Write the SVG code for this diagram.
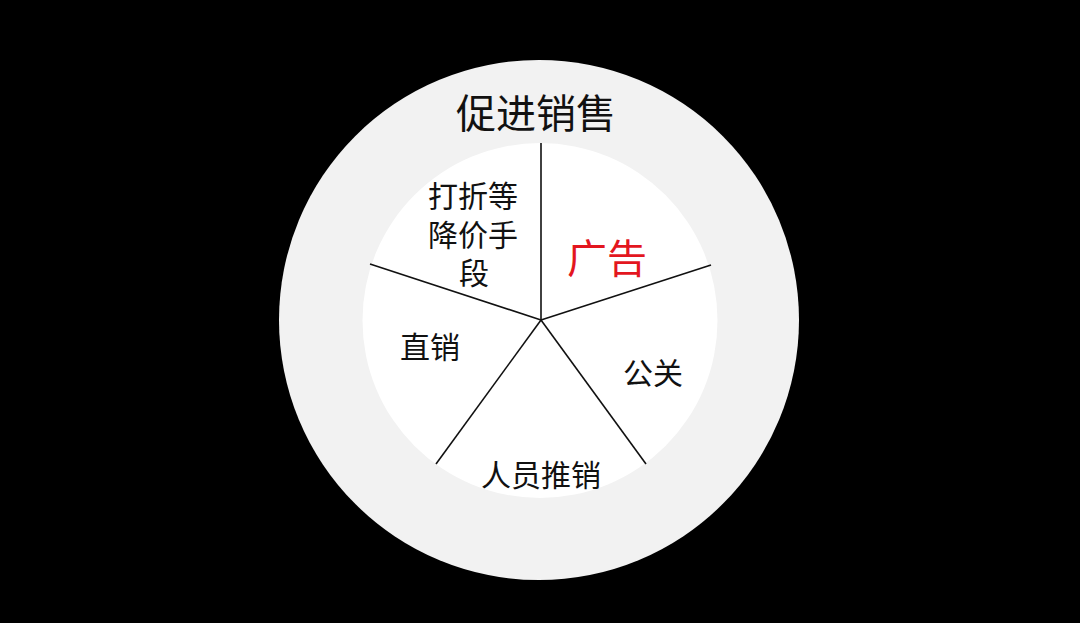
<svg xmlns="http://www.w3.org/2000/svg" width="1080" height="623" viewBox="0 0 1080 623">
  <style>
    .lbl { font-family: "Noto Sans CJK SC", "Noto Sans", sans-serif; fill: #111111; text-anchor: middle; }
    .div { stroke: #111111; stroke-width: 1.6; fill: none; }
  </style>
  <rect x="0" y="0" width="1080" height="623" fill="#000000"/>
  <g id="outer-ring">
    <circle cx="539" cy="320" r="260" fill="#f2f2f2"/>
    <text class="lbl" x="536" y="128" font-size="40">促进销售</text>
  </g>
  <g id="inner-circle">
    <circle cx="540" cy="320.5" r="177.5" fill="#ffffff"/>
  </g>
  <g id="connectors">
    <line class="div" x1="541" y1="320" x2="541" y2="143"/>
    <line class="div" x1="541" y1="320" x2="711" y2="265"/>
    <line class="div" x1="541" y1="320" x2="646" y2="464"/>
    <line class="div" x1="541" y1="320" x2="436" y2="464"/>
    <line class="div" x1="541" y1="320" x2="370" y2="264"/>
  </g>
  <g id="node-discount">
    <text class="lbl" x="473" y="207" font-size="30">打折等</text>
    <text class="lbl" x="473" y="246" font-size="30">降价手</text>
    <text class="lbl" x="474" y="284" font-size="30">段</text>
  </g>
  <g id="node-ad">
    <text class="lbl" x="607" y="273" font-size="40" style="fill:#e3161e">广告</text>
  </g>
  <g id="node-direct">
    <text class="lbl" x="430" y="358" font-size="30">直销</text>
  </g>
  <g id="node-pr">
    <text class="lbl" x="653" y="384" font-size="30">公关</text>
  </g>
  <g id="node-personal">
    <text class="lbl" x="541" y="486" font-size="30">人员推销</text>
  </g>
</svg>
